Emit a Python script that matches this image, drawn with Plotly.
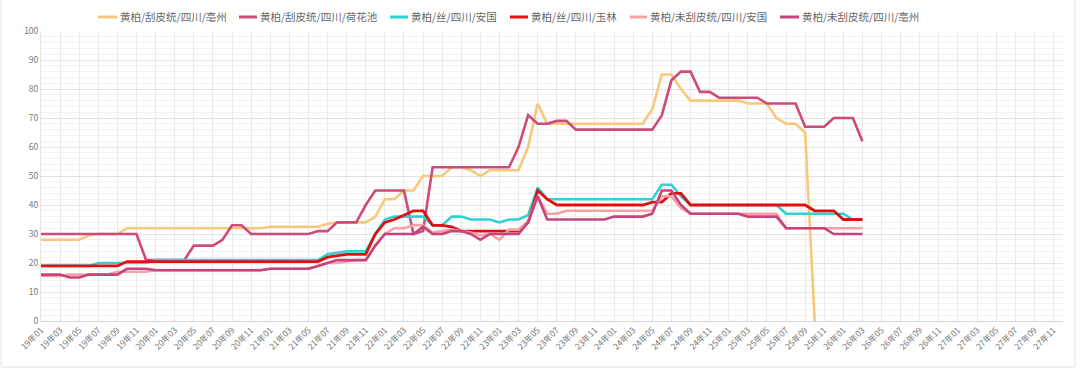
import plotly.graph_objects as go

# Month categories 19年01 .. 27年12
months = [f"{y}年{m:02d}" for y in range(19, 28) for m in range(1, 13)]
tick_labels = months[::2]

names = [
    "黄柏/刮皮统/四川/亳州",
    "黄柏/刮皮统/四川/荷花池",
    "黄柏/丝/四川/安国",
    "黄柏/丝/四川/玉林",
    "黄柏/未刮皮统/四川/安国",
    "黄柏/未刮皮统/四川/亳州",
]

bozhou_guapi = [
    28, 28, 28, 28, 28, 29.5, 30, 30, 30, 32, 32, 32,
    32, 32, 32, 32, 32, 32, 32, 32, 32, 32, 32, 32,
    32.5, 32.5, 32.5, 32.5, 32.5, 32.5, 33.5, 34, 34, 34, 34, 36,
    42, 42, 45, 45, 50, 50, 50, 53, 53, 52, 50, 52,
    52, 52, 52, 60, 75, 68, 68, 68, 68, 68, 68, 68,
    68, 68, 68, 68, 73, 85, 85, 80, 76, 76, 76, 76,
    76, 76, 75, 75, 75, 70, 68, 68, 65, 0,
]

hehuachi_guapi = [
    30, 30, 30, 30, 30, 30, 30, 30, 30, 30, 30, 21,
    21, 21, 21, 21, 26, 26, 26, 28, 33, 33, 30, 30,
    30, 30, 30, 30, 30, 31, 31, 34, 34, 34, 40, 45,
    45, 45, 45, 30, 31, 53, 53, 53, 53, 53, 53, 53,
    53, 53, 60, 71, 68, 68, 69, 69, 66, 66, 66, 66,
    66, 66, 66, 66, 66, 71, 83, 86, 86, 79, 79, 77,
    77, 77, 77, 77, 75, 75, 75, 75, 67, 67, 67, 70,
    70, 70, 62,
]

anguo_si = [
    19, 19, 19, 19, 19, 19, 20, 20, 20, 20, 20, 20,
    21, 21, 21, 21, 21, 21, 21, 21, 21, 21, 21, 21,
    21, 21, 21, 21, 21, 21, 23, 23.5, 24, 24, 24, 30,
    35, 36, 36, 36, 36, 33, 33, 36, 36, 35, 35, 35,
    34, 35, 35, 36.5, 46, 42, 42, 42, 42, 42, 42, 42,
    42, 42, 42, 42, 42, 47, 47, 43, 40, 40, 40, 40,
    40, 40, 40, 40, 40, 40, 37, 37, 37, 37, 37, 37,
    37, 35, 35,
]

yulin_si = [
    19, 19, 19, 19, 19, 19, 19, 19, 19, 20.5, 20.5, 20.5,
    20.5, 20.5, 20.5, 20.5, 20.5, 20.5, 20.5, 20.5, 20.5, 20.5, 20.5, 20.5,
    20.5, 20.5, 20.5, 20.5, 20.5, 20.5, 22, 22.5, 23, 23, 23, 30,
    34, 35, 36.5, 38, 38, 33, 33, 32.5, 31, 31, 31, 31,
    31, 31, 31, 34, 45, 42, 40, 40, 40, 40, 40, 40,
    40, 40, 40, 40, 41, 41, 44, 44, 40, 40, 40, 40,
    40, 40, 40, 40, 40, 40, 40, 40, 40, 38, 38, 38,
    35, 35, 35,
]

anguo_weigua = [
    15.5, 15.5, 15.5, 16, 16, 16, 16, 16, 17, 17, 17, 17,
    17.5, 17.5, 17.5, 17.5, 17.5, 17.5, 17.5, 17.5, 17.5, 17.5, 17.5, 17.5,
    18, 18, 18, 18, 18, 19, 20, 20, 20.5, 21, 21, 26,
    30, 32, 32, 33, 33, 30.5, 31, 31.5, 31, 30.5, 29.5, 30,
    28, 31.5, 31.5, 34.5, 43, 37, 37, 38, 38, 38, 38, 38,
    38, 38, 38, 38, 38, 43, 43, 39, 37, 37, 37, 37,
    37, 37, 37, 37, 37, 37, 32, 32, 32, 32, 32, 32,
    32, 32, 32,
]

bozhou_weigua = [
    16, 16, 16, 15, 15, 16, 16, 16, 16, 18, 18, 18,
    17.5, 17.5, 17.5, 17.5, 17.5, 17.5, 17.5, 17.5, 17.5, 17.5, 17.5, 17.5,
    18, 18, 18, 18, 18, 19, 20, 21, 21, 21, 21, 26,
    30, 30, 30, 30, 32.5, 30, 30, 31, 31, 30, 28, 30,
    30, 30, 30, 34, 43, 35, 35, 35, 35, 35, 35, 35,
    36, 36, 36, 36, 37, 45, 45, 40, 37, 37, 37, 37,
    37, 37, 36, 36, 36, 36, 32, 32, 32, 32, 32, 30,
    30, 30, 30,
]

series = [bozhou_guapi, hehuachi_guapi, anguo_si, yulin_si, anguo_weigua, bozhou_weigua]
colors = ["#f8c87a", "#cc4a7c", "#2ed2d2", "#e01010", "#f6a2a5", "#c8437b"]
widths = [2.6, 2.6, 2.6, 2.8, 2.6, 2.6]

# legend layout (pixel positions of the legend swatches, converted to paper coords)
PLOT_L, PLOT_W, PLOT_B, PLOT_H = 41, 1022, 321, 290
legend_swatch_px = [(98, 117), (239, 257), (390, 408), (510, 528), (630, 647), (780, 799)]
legend_y_px = 17


def px_x(p):
    return (p - PLOT_L) / PLOT_W


def px_y(p):
    return (PLOT_B - p) / PLOT_H


fig = go.Figure()
for name, vals, col, w in zip(names, series, colors, widths):
    fig.add_trace(go.Scatter(
        x=months[:len(vals)], y=vals, name=name, mode="lines",
        line=dict(color=col, width=w), hoverinfo="x+y+name",
    ))

shapes = []
annotations = []
for name, col, (a, b) in zip(names, colors, legend_swatch_px):
    shapes.append(dict(
        type="line", xref="paper", yref="paper",
        x0=px_x(a), x1=px_x(b), y0=px_y(legend_y_px), y1=px_y(legend_y_px),
        line=dict(color=col, width=3),
    ))
    annotations.append(dict(
        xref="paper", yref="paper", x=px_x(b + 1), y=px_y(legend_y_px),
        xanchor="left", yanchor="middle", showarrow=False, text=name,
        font=dict(size=10.5, color="#666666"),
    ))

shapes.append(dict(
    type="rect", xref="paper", yref="paper",
    x0=px_x(1), x1=px_x(1075), y0=px_y(367), y1=px_y(-10),
    line=dict(color="#e2e2e2", width=1), fillcolor="rgba(0,0,0,0)", layer="below",
))

fig.update_layout(
    width=1080, height=374,
    margin=dict(l=PLOT_L, r=1080 - PLOT_L - PLOT_W, t=PLOT_B - PLOT_H, b=374 - PLOT_B, autoexpand=False),
    paper_bgcolor="white", plot_bgcolor="white",
    font=dict(family="Noto Sans CJK SC, Microsoft YaHei, sans-serif", color="#666666", size=9),
    showlegend=False,
    xaxis=dict(
        type="category", categoryorder="array", categoryarray=months,
        range=[0, len(months) - 1],
        tickmode="array", tickvals=tick_labels, ticktext=tick_labels,
        tickangle=-45, tickfont=dict(size=8.5, color="#777777"),
        showgrid=True, gridcolor="#e8e8e8", gridwidth=1,
        showline=True, linecolor="#d6d6d6", ticks="", zeroline=False,
    ),
    yaxis=dict(
        range=[0, 100], dtick=10, tick0=0,
        tickfont=dict(size=8.5, color="#777777"),
        showgrid=True, gridcolor="#e4e4e4", gridwidth=1,
        minor=dict(dtick=2, showgrid=True, gridcolor="#f3f3f3", gridwidth=1),
        showline=True, linecolor="#e4e4e4", ticks="", zeroline=False,
    ),
    shapes=shapes,
    annotations=annotations,
)

fig.write_html(
    "out.html",
    config={"displayModeBar": False},
    post_script="document.body.style.margin='0px';document.body.style.overflow='hidden';",
)
